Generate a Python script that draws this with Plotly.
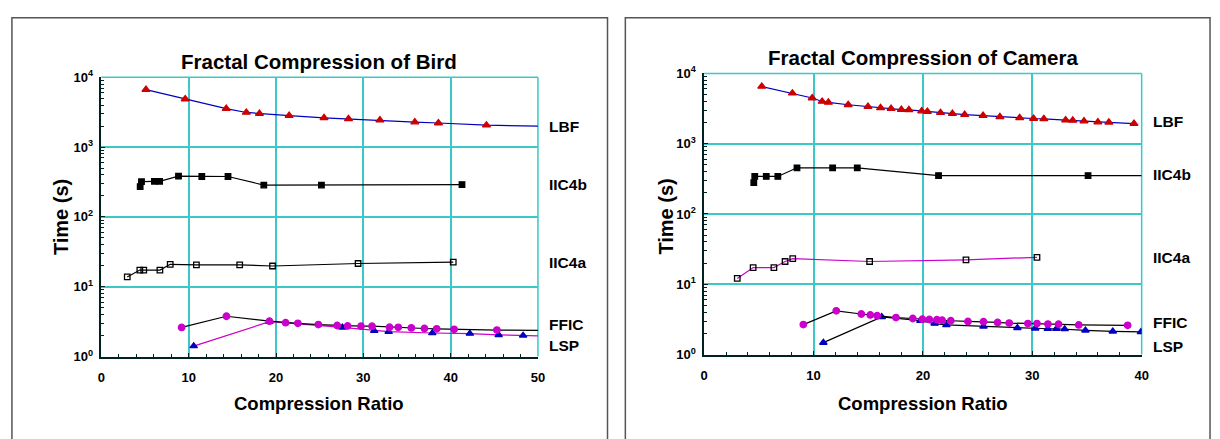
import plotly.graph_objects as go

W, H = 1220, 439

# ---------------- data: Bird ----------------
bird_lbf_x = [5.1, 9.6, 14.3, 16.6, 18.1, 21.5, 25.5, 28.3, 31.9, 35.9, 38.6, 44.1, 50.0]
bird_lbf_y = [6640, 4880, 3560, 3130, 3010, 2820, 2620, 2540, 2430, 2280, 2210, 2055, 1990]
bird_iic4b_x = [4.44, 4.59, 6.07, 6.67, 8.83, 11.5, 14.5, 18.6, 25.2, 41.3]
bird_iic4b_y = [272, 319, 323, 323, 383, 379, 379, 285, 285, 290]
bird_iic4a_x = [2.96, 4.40, 4.85, 6.70, 7.88, 10.88, 15.84, 19.6, 29.4, 40.3]
bird_iic4a_y = [13.8, 17.3, 17.3, 17.3, 20.9, 20.5, 20.5, 19.8, 21.5, 22.5]
bird_ffic_x = [9.19, 14.32, 19.25, 21.1, 22.5, 24.85, 27.0, 28.2, 29.73, 31.0, 33.0, 34.0,
               35.5, 37.0, 38.4, 40.4, 45.3, 50.0]
bird_ffic_y = [2.61, 3.77, 3.21, 3.05, 2.99, 2.87, 2.78, 2.74, 2.72, 2.72, 2.63, 2.62,
               2.57, 2.52, 2.49, 2.45, 2.39, 2.37]
bird_lsp_x = [10.57, 19.25, 27.6, 31.25, 32.9, 37.9, 42.2, 45.5, 48.3, 50.0]
bird_lsp_y = [1.41, 3.15, 2.61, 2.34, 2.27, 2.17, 2.13, 2.04, 2.00, 1.98]

# ---------------- data: Camera ----------------
cam_lbf_x = [5.27, 8.07, 9.88, 10.79, 11.36, 13.17, 14.98, 16.13, 17.09, 18.03, 18.72, 19.89,
             20.41, 21.61, 22.7, 23.82, 25.5, 27.04, 28.85, 30.12, 31.06, 33.05, 33.7, 34.73,
             36.0, 37.0, 39.3]
cam_lbf_y = [6520, 5230, 4470, 3990, 3865, 3585, 3363, 3228, 3157, 3060, 3033, 2911,
             2873, 2760, 2674, 2588, 2510, 2410, 2335, 2282, 2261, 2163, 2143, 2100,
             2033, 2013, 1932]
cam_iic4b_x = [4.54, 4.63, 5.68, 6.74, 8.49, 11.75, 14.0, 21.43, 35.1, 40.0]
cam_iic4b_y = [279, 342, 342, 342, 454, 454, 454, 352, 352, 352]
cam_iic4a_x = [3.03, 4.48, 6.38, 7.40, 8.10, 15.13, 23.94, 30.43]
cam_iic4a_y = [12.1, 17.3, 17.3, 21.1, 23.2, 21.1, 22.3, 24.2]
cam_ffic_x = [9.07, 12.08, 14.37, 15.19, 15.82, 17.54, 19.08, 19.95, 20.59, 21.28, 21.76, 22.55,
              24.12, 25.54, 26.83, 27.89, 29.6, 30.43, 31.43, 32.4, 34.25, 38.72]
cam_ffic_y = [2.67, 4.19, 3.78, 3.66, 3.58, 3.36, 3.26, 3.19, 3.16, 3.13, 3.09, 3.03,
              2.96, 2.94, 2.87, 2.81, 2.76, 2.76, 2.72, 2.70, 2.64, 2.61]
cam_lsp_x = [10.9, 16.24, 19.77, 21.07, 22.15, 25.54, 28.64, 30.27, 31.42, 32.2, 32.96, 34.86,
             37.36, 39.93]
cam_lsp_y = [1.48, 3.44, 3.03, 2.76, 2.64, 2.51, 2.40, 2.36, 2.33, 2.33, 2.31, 2.21,
             2.14, 2.10]

series_names = ["LBF", "IIC4b", "IIC4a", "FFIC", "LSP"]
y_tickvals = [1, 10, 100, 1000, 10000]
y_ticktext = ["10<sup>0</sup>", "10<sup>1</sup>", "10<sup>2</sup>", "10<sup>3</sup>", "10<sup>4</sup>"]
bird_xticks = [0, 10, 20, 30, 40, 50]
cam_xticks = [0, 10, 20, 30, 40]

RED = "#cc0000"
BLUE = "#0000c0"
MAG = "#cc00cc"
BLACK = "#000000"
GRID = "#3cc8c8"

fig = go.Figure()


def add_series(x, y, xa, ya, line_color, marker_sym, marker_color, msize, line_to_edge,
               line_width=1.2):
    fig.add_trace(go.Scatter(x=x, y=y, mode="lines", xaxis=xa, yaxis=ya,
                             line=dict(color=line_color, width=line_width),
                             showlegend=False, hoverinfo="skip"))
    mx = x[:-1] if line_to_edge else x
    my = y[:-1] if line_to_edge else y
    fig.add_trace(go.Scatter(x=mx, y=my, mode="markers", xaxis=xa, yaxis=ya,
                             marker=dict(symbol=marker_sym, color=marker_color, size=msize,
                                         line=dict(color=marker_color, width=1.3)),
                             showlegend=False))


# Bird (x, y)
add_series(bird_lbf_x, bird_lbf_y, "x", "y", BLUE, "triangle-up", RED, 7, True)
add_series(bird_iic4b_x, bird_iic4b_y, "x", "y", BLACK, "square", BLACK, 5.5, False)
add_series(bird_iic4a_x, bird_iic4a_y, "x", "y", BLACK, "square-open", BLACK, 5.5, False)
add_series(bird_lsp_x, bird_lsp_y, "x", "y", MAG, "triangle-up", BLUE, 6.5, True)
add_series(bird_ffic_x, bird_ffic_y, "x", "y", BLACK, "circle", MAG, 6.5, True)

# Camera (x2, y2)
add_series(cam_lbf_x, cam_lbf_y, "x2", "y2", BLUE, "triangle-up", RED, 7, False)
add_series(cam_iic4b_x, cam_iic4b_y, "x2", "y2", BLACK, "square", BLACK, 5.5, True)
add_series(cam_iic4a_x, cam_iic4a_y, "x2", "y2", MAG, "square-open", BLACK, 5.5, False)
add_series(cam_lsp_x, cam_lsp_y, "x2", "y2", BLACK, "triangle-up", BLUE, 6.5, False)
add_series(cam_ffic_x, cam_ffic_y, "x2", "y2", BLACK, "circle", MAG, 6.5, False)

TICKFONT = dict(family="Liberation Sans Narrow, Liberation Sans, Arial", size=13, color="black")
minor_y = [m * 10 ** d for d in range(4) for m in range(2, 10)]


def xaxis_cfg(domain, rng, ticks, anchor):
    return dict(domain=domain, range=rng, tickvals=ticks,
                ticktext=["<b>" + str(t) + "</b>" for t in ticks],
                showgrid=True, gridcolor=GRID, gridwidth=1.5, showline=True, linecolor="#002222",
                linewidth=1.5, ticks="inside", ticklen=4, tickcolor="#002222", zeroline=False,
                tickfont=TICKFONT, anchor=anchor, ticklabelstandoff=8,
                minor=dict(dtick=2, ticks="inside", ticklen=3, tickcolor="#002222", showgrid=False))


def yaxis_cfg(domain, anchor):
    return dict(domain=domain, type="log", range=[0, 4], tickvals=y_tickvals,
                ticktext=["<b>" + t + "</b>" for t in y_ticktext],
                showgrid=True, gridcolor=GRID, gridwidth=1.5, showline=True, linecolor="#002222",
                linewidth=1.5, ticks="inside", ticklen=4, tickcolor="#002222", zeroline=False,
                tickfont=TICKFONT, anchor=anchor, ticklabelstandoff=4,
                minor=dict(tickvals=minor_y, ticks="inside", ticklen=3, tickcolor="#002222",
                           showgrid=False))


bird_dom_x = [98.3 / W, 538.8 / W]
bird_dom_y = [1 - 361.5 / H, 1 - 71 / H]
cam_dom_x = [706.5 / W, 1148 / W]
cam_dom_y = [1 - 359.5 / H, 1 - 67 / H]

fig.update_layout(
    width=W, height=H, margin=dict(l=0, r=0, t=0, b=0),
    paper_bgcolor="white", plot_bgcolor="white",
    xaxis=xaxis_cfg(bird_dom_x, [0, 50], bird_xticks, "y"),
    yaxis=yaxis_cfg(bird_dom_y, "x"),
    xaxis2=xaxis_cfg(cam_dom_x, [0, 40], cam_xticks, "y2"),
    yaxis2=yaxis_cfg(cam_dom_y, "x2"),
)

shapes = []
# top/right cyan plot borders
for xr, yr in [("x domain", "y domain"), ("x2 domain", "y2 domain")]:
    shapes.append(dict(type="line", xref=xr, yref=yr, x0=0, x1=1, y0=1, y1=1,
                       line=dict(color=GRID, width=1.5), layer="below"))
    shapes.append(dict(type="line", xref=xr, yref=yr, x0=1, x1=1, y0=0, y1=1,
                       line=dict(color=GRID, width=1.5), layer="below"))
# panel frames
shapes.append(dict(type="rect", xref="paper", yref="paper", x0=8 / W, x1=609 / W,
                   y0=-0.1, y1=1 - 9 / H, line=dict(color="#555555", width=1.5)))
shapes.append(dict(type="rect", xref="paper", yref="paper", x0=627 / W, x1=1217 / W,
                   y0=-0.1, y1=1 - 9 / H, line=dict(color="#555555", width=1.5)))
fig.update_layout(shapes=shapes)

TFONT = dict(family="Liberation Sans, Arial", size=20.5, color="black")
AFONT = dict(family="Liberation Sans, Arial", size=18.5, color="black")
YFONT = dict(family="Liberation Sans, Arial", size=20, color="black")
LFONT = dict(family="Liberation Sans, Arial", size=15.5, color="black")

ann = []


def paper(px, py):
    return px / W, 1 - py / H


def add_text(txt, px, py, font, xanchor="center", angle=0):
    x, y = paper(px, py)
    ann.append(dict(text=txt, x=x, y=y, xref="paper", yref="paper", showarrow=False,
                    xanchor=xanchor, yanchor="middle", font=font, textangle=angle))


add_text("<b>Fractal Compression of Bird</b>", 318, 55, TFONT)
add_text("<b>Fractal Compression of Camera</b>", 927, 50, TFONT)
add_text("<b>Time (s)</b>", 57, 216, YFONT, angle=-90)
add_text("<b>Time (s)</b>", 668, 216, YFONT, angle=-90)
add_text("<b>Compression Ratio</b>", 318, 410, AFONT)
add_text("<b>Compression Ratio</b>", 927, 410, AFONT)

bird_label_y = [122, 183, 264, 328, 350]
cam_label_y = [117, 172, 259, 326, 351]
for name, py in zip(series_names, bird_label_y):
    add_text("<b>" + name + "</b>", 548, py, LFONT, xanchor="left")
for name, py in zip(series_names, cam_label_y):
    add_text("<b>" + name + "</b>", 1157, py, LFONT, xanchor="left")

fig.update_layout(annotations=ann)
fig.write_html("out.html")
